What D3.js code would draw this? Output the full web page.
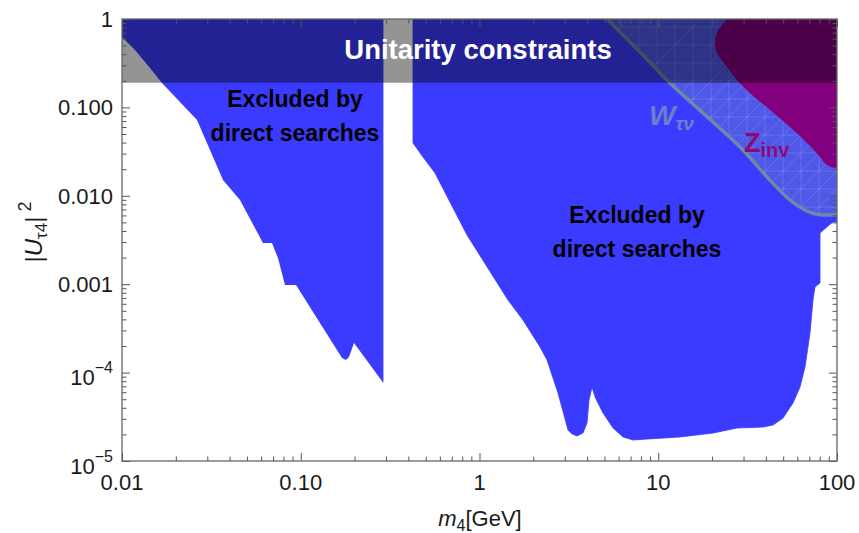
<!DOCTYPE html>
<html>
<head>
<meta charset="utf-8">
<script src="https://cdn.jsdelivr.net/npm/d3@7"></script>
<style>
  body { margin: 0; background: #fff; }
  svg { display: block; }
  text { font-family: "Liberation Sans", Arial, Helvetica, sans-serif; }
</style>
</head>
<body>
<svg id="chart" width="859" height="533"></svg>
<script>
// ---- Axis ticks -------------------------------------------------------
const xTickValues = [0.01, 0.1, 1, 10, 100];
const xTickLabels = ["0.01", "0.10", "1", "10", "100"];
const yTickValues = [1e-5, 1e-4, 1e-3, 1e-2, 1e-1, 1];
const yTickLabels = [["10", "−5"], ["10", "−4"], ["0.001"], ["0.010"], ["0.100"], ["1"]];

// ---- Excluded regions: [m4 (GeV), |U_tau4|^2] -------------------------
// direct searches, low-mass window
const directLowMass = [
  [0.01, 1], [0.01, 0.626], [0.01182, 0.446], [0.01434, 0.279], [0.01674, 0.1888],
  [0.02628, 0.0720], [0.03673, 0.01509], [0.04572, 0.008967], [0.06149, 0.002924],
  [0.06904, 0.002924], [0.07459, 0.001978], [0.08164, 0.00098], [0.09406, 0.00098],
  [0.1281, 0.000364], [0.1702, 0.0001463], [0.1791, 0.0001389], [0.1862, 0.0001502],
  [0.1986, 0.0002162], [0.2900, 0.0000763], [0.2900, 1]
];

// direct searches, high-mass window
const directHighMass = [
  [0.4246, 1], [0.4246, 0.03958], [0.4829, 0.02748], [0.5636, 0.01811], [0.8514, 0.003602],
  [1.443, 0.000663], [1.751, 0.0003936], [2.181, 0.0001948], [2.386, 0.0001389],
  [2.749, 0.0000588], [3.127, 0.00002242], [3.293, 0.0000202], [3.512, 0.00001918],
  [3.793, 0.00002074], [3.994, 0.0000269], [4.099, 0.000049], [4.261, 0.0000687],
  [4.429, 0.000053], [4.908, 0.0000349], [5.583, 0.0000236], [6.352, 0.0000187],
  [7.223, 0.0000173], [13.23, 0.0000187], [20.25, 0.0000207], [27.58, 0.0000236],
  [38.55, 0.0000242], [43.85, 0.0000255], [49.88, 0.0000306], [56.74, 0.0000453],
  [62.09, 0.0000687], [66.22, 0.0001157], [70.63, 0.0002805], [73.38, 0.000663],
  [75.30, 0.00093], [80.33, 0.001032], [80.33, 0.003795], [89.07, 0.004554],
  [94.97, 0.005052], [100, 0.005052], [100, 1]
];

// W -> tau nu boundary (excluded above / right)
const wTauNuBound = [
  [5.168, 1], [7.906, 0.4233], [11.63, 0.1888], [20.25, 0.06836], [29.79, 0.03296],
  [40.59, 0.01632], [54.59, 0.008967], [66.22, 0.00691], [75.30, 0.006223],
  [85.69, 0.006063], [100, 0.006063]
];

// invisible Z width boundary (excluded above / right)
const zInvBound = [
  [24.24, 1], [22.73, 0.8553], [21.32, 0.6944], [20.77, 0.5353], [21.32, 0.4124],
  [24.24, 0.2864], [27.58, 0.2042], [32.61, 0.1455], [42.19, 0.0935], [54.59, 0.06003],
  [67.96, 0.03958], [80.33, 0.02748], [87.93, 0.02231], [100, 0.02118]
];

// unitarity bound on |U_tau4|^2
const unitarityLimit = 0.19;

// ---- Scales -----------------------------------------------------------
const svg = d3.select("#chart");
const x = d3.scaleLog().domain([0.01, 100]).range([122, 837]);
const y = d3.scaleLog().domain([1e-5, 1]).range([461, 19]);
const line = d3.line().x(d => x(d[0])).y(d => y(d[1]));
const smooth = d3.line().x(d => x(d[0])).y(d => y(d[1])).curve(d3.curveCatmullRom.alpha(0.5));
const [x0, x1] = x.range();
const [y0, y1] = y.range();

const defs = svg.append("defs");
defs.append("clipPath").attr("id", "plotClip")
  .append("rect").attr("x", x0).attr("y", y1).attr("width", x1 - x0).attr("height", y0 - y1);

const mesh = defs.append("pattern").attr("id", "mesh")
  .attr("patternUnits", "userSpaceOnUse").attr("width", 18).attr("height", 18);
mesh.append("path")
  .attr("d", "M0,18 L18,0 M-9,9 L9,-9 M9,27 L27,9 M0,9 L18,9 M9,0 L9,18")
  .attr("stroke", "rgba(215,225,255,0.2)").attr("stroke-width", 0.8).attr("fill", "none");

const plot = svg.append("g").attr("clip-path", "url(#plotClip)");

// direct search exclusions
plot.append("path").datum(directLowMass).attr("d", d => line(d) + "Z").attr("fill", "#3b3bff");
plot.append("path").datum(directHighMass).attr("d", d => line(d) + "Z").attr("fill", "#3b3bff")
  .attr("stroke", "#3b3bff").attr("stroke-width", 0.8).attr("stroke-linejoin", "round");

// W -> tau nu region
const wRegion = wTauNuBound.concat([[100, 1]]);
plot.append("path").datum(wRegion).attr("d", d => smooth(d) + "Z").attr("fill", "rgba(125,150,185,0.33)");
plot.append("path").datum(wRegion).attr("d", d => smooth(d) + "Z").attr("fill", "url(#mesh)");
plot.append("path").datum(wTauNuBound).attr("d", smooth)
  .attr("fill", "none").attr("stroke", "#6b8aa8").attr("stroke-width", 3.5);

// Z invisible region
plot.append("path").datum(zInvBound.concat([[100, 1]])).attr("d", d => smooth(d) + "Z")
  .attr("fill", "#82007e");

// unitarity band
plot.append("rect")
  .attr("x", x(0.01)).attr("width", x(100) - x(0.01))
  .attr("y", y(1)).attr("height", y(unitarityLimit) - y(1))
  .attr("fill", "rgba(0,0,0,0.42)");

// ---- Region labels -----------------------------------------------------
svg.append("text").attr("x", 478).attr("y", 59).attr("text-anchor", "middle")
  .attr("font-size", 27.5).attr("font-weight", "bold").attr("fill", "#fff")
  .text("Unitarity constraints");

function twoLine(cx, by, lines) {
  const t = svg.append("text").attr("text-anchor", "middle")
    .attr("font-size", 23).attr("font-weight", "bold").attr("fill", "#000");
  lines.forEach((s, i) => t.append("tspan").attr("x", cx).attr("y", by + i * 34).text(s));
}
twoLine(295, 107, ["Excluded by", "direct searches"]);
twoLine(637, 223, ["Excluded by", "direct searches"]);

const wl = svg.append("text").attr("x", 649).attr("y", 125)
  .attr("font-weight", "bold").attr("font-style", "italic").attr("fill", "#6e7ec8");
wl.append("tspan").attr("font-size", 28).text("W");
wl.append("tspan").attr("font-size", 19).attr("dy", 5).text("τν");

const zl = svg.append("text").attr("x", 744).attr("y", 152)
  .attr("font-weight", "bold").attr("fill", "#8c0a78");
zl.append("tspan").attr("font-size", 27).text("Z");
zl.append("tspan").attr("font-size", 20).attr("dy", 5).text("inv");

// ---- Axes ---------------------------------------------------------------
function minorTicks(scale) {
  const [a, b] = scale.domain();
  const out = [];
  for (let e = Math.round(Math.log10(a)); e < Math.round(Math.log10(b)); e++) {
    for (let k = 2; k <= 9; k++) out.push(k * Math.pow(10, e));
  }
  return out;
}
const xMinor = minorTicks(x), yMinor = minorTicks(y);

function drawTicks(axis, transform, values, size) {
  svg.append("g").attr("transform", transform)
    .call(axis.tickValues(values).tickSize(size).tickFormat(""))
    .call(g => g.select(".domain").remove())
    .call(g => g.selectAll("line").attr("stroke", "#555").attr("stroke-width", 1));
}
drawTicks(d3.axisBottom(x), `translate(0,${y0})`, xTickValues, -8);
drawTicks(d3.axisBottom(x), `translate(0,${y0})`, xMinor, -4.5);
drawTicks(d3.axisTop(x), `translate(0,${y1})`, xTickValues, -8);
drawTicks(d3.axisTop(x), `translate(0,${y1})`, xMinor, -4.5);
drawTicks(d3.axisLeft(y), `translate(${x0},0)`, yTickValues, -8);
drawTicks(d3.axisLeft(y), `translate(${x0},0)`, yMinor, -4.5);
drawTicks(d3.axisRight(y), `translate(${x1},0)`, yTickValues, -8);
drawTicks(d3.axisRight(y), `translate(${x1},0)`, yMinor, -4.5);

svg.append("rect").attr("x", x0).attr("y", y1).attr("width", x1 - x0).attr("height", y0 - y1)
  .attr("fill", "none").attr("stroke", "#666").attr("stroke-width", 1.3);

// tick labels
svg.append("g").selectAll("text").data(xTickValues).join("text")
  .attr("x", d => x(d)).attr("y", 490).attr("text-anchor", "middle")
  .attr("font-size", 22).attr("fill", "#1a1a1a")
  .text((d, i) => xTickLabels[i]);

const yl = svg.append("g").selectAll("text").data(yTickValues).join("text")
  .attr("x", 113).attr("text-anchor", "end").attr("font-size", 22).attr("fill", "#1a1a1a")
  .attr("y", (d, i) => y(d) + (yTickLabels[i].length > 1 ? 12.5 : 8));
yl.each(function (d, i) {
  const t = d3.select(this), lab = yTickLabels[i];
  t.append("tspan").text(lab[0]);
  if (lab.length > 1) t.append("tspan").attr("font-size", 16).attr("dy", -12).text(lab[1]);
});

// axis titles
const xt = svg.append("text").attr("x", 480).attr("y", 526).attr("text-anchor", "middle")
  .attr("font-size", 22).attr("fill", "#1a1a1a");
xt.append("tspan").attr("font-style", "italic").text("m");
xt.append("tspan").attr("font-size", 16).attr("dy", 5).text("4");
xt.append("tspan").attr("dy", -5).text("[GeV]");

const yt = svg.append("text").attr("transform", "translate(42,232) rotate(-90)")
  .attr("text-anchor", "middle").attr("font-size", 24).attr("fill", "#1a1a1a");
yt.append("tspan").text("|");
yt.append("tspan").attr("font-style", "italic").text("U");
yt.append("tspan").attr("font-size", 17).attr("dy", 5).text("τ4");
yt.append("tspan").attr("dy", -5).text("|");
yt.append("tspan").attr("font-size", 18).attr("dy", -11).text(" 2");
</script>
</body>
</html>
